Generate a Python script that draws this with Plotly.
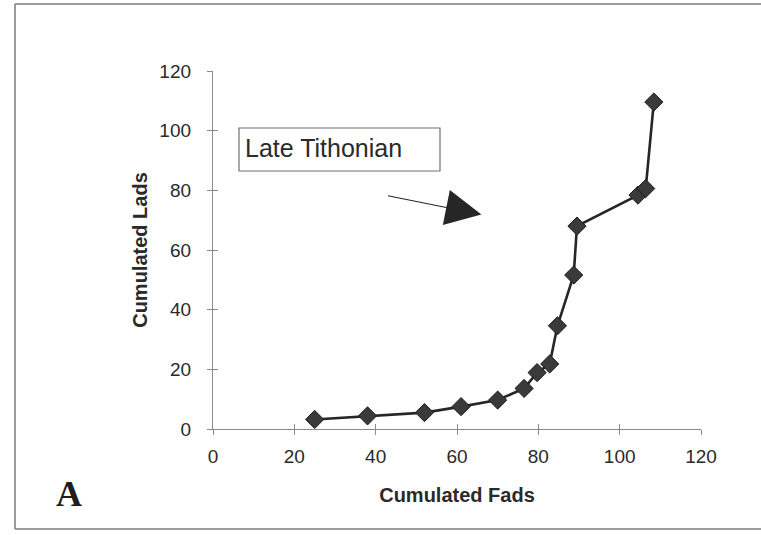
import plotly.graph_objects as go

# Data
cum_fads = [25, 38, 52, 61, 70, 76.5, 79.7, 82.8, 84.7, 88.7, 89.5, 104.5, 106.4, 108.4]
cum_lads = [3.2, 4.4, 5.5, 7.5, 9.7, 13.6, 18.9, 21.8, 34.6, 51.6, 68, 78.4, 80.6, 109.6]
tick_vals = [0, 20, 40, 60, 80, 100, 120]
tick_text = ["0", "20", "40", "60", "80", "100", "120"]

W, H = 761, 535
ML, MR, MT, MB = 213, 60, 71, 106
PW, PH = W - ML - MR, H - MT - MB


def px_x(p):
    return (p - ML) / PW


def px_y(p):
    return (H - MB - p) / PH


FONT = "Liberation Sans, Arial"

fig = go.Figure()
fig.add_trace(go.Scatter(
    x=cum_fads, y=cum_lads, mode="lines+markers",
    line=dict(color="#262626", width=2.6),
    marker=dict(symbol="diamond", size=14, color="#3a3a3a",
                line=dict(color="#1e1e1e", width=1)),
    showlegend=False, cliponaxis=False,
))
# invisible trace on overlay axes to produce crossing ticks
fig.add_trace(go.Scatter(x=[0], y=[0], xaxis="x2", yaxis="y2", mode="markers",
                         marker=dict(opacity=0), showlegend=False, hoverinfo="skip"))

axis_common = dict(showgrid=False, zeroline=False, showline=True,
                   linecolor="#8a8a8a", linewidth=1.3,
                   tickcolor="#8a8a8a", tickwidth=1.3, ticklen=5,
                   tickvals=tick_vals, ticktext=tick_text,
                   tickfont=dict(family=FONT, size=19, color="#2a2a2a"))

fig.update_layout(
    width=W, height=H,
    margin=dict(l=ML, r=MR, t=MT, b=MB),
    paper_bgcolor="white", plot_bgcolor="white",
    xaxis=dict(range=[0, 120], ticks="outside", ticklabelstandoff=5,
               title=dict(text="<b>Cumulated Fads</b>", standoff=22,
                          font=dict(family=FONT, size=20, color="#2a2a2a")),
               **axis_common),
    yaxis=dict(range=[0, 120], ticks="outside", ticklabelstandoff=12,
               title=dict(text="<b>Cumulated Lads</b>", standoff=6,
                          font=dict(family=FONT, size=20, color="#2a2a2a")),
               **axis_common),
    xaxis2=dict(range=[0, 120], overlaying="x", ticks="inside", showticklabels=False,
                showgrid=False, zeroline=False, tickvals=tick_vals, ticklen=5,
                tickcolor="#8a8a8a", tickwidth=1.3, showline=False),
    yaxis2=dict(range=[0, 120], overlaying="y", ticks="inside", showticklabels=False,
                showgrid=False, zeroline=False, tickvals=tick_vals, ticklen=5,
                tickcolor="#8a8a8a", tickwidth=1.3, showline=False),
)

# Text box "Late Tithonian"
fig.add_shape(type="rect", xref="paper", yref="paper",
              x0=px_x(239), x1=px_x(440), y0=px_y(171), y1=px_y(128),
              line=dict(color="#707070", width=1.2), fillcolor="white")
fig.add_annotation(xref="paper", yref="paper", x=px_x(243), y=px_y(148),
                   xanchor="left", yanchor="middle", showarrow=False,
                   text="Late Tithonian",
                   font=dict(family=FONT, size=25, color="#2a2a2a"))

# Arrow
fig.add_annotation(x=66.0, y=71.9, xref="x", yref="y", text="",
                   showarrow=True, arrowhead=2, arrowsize=6.5, arrowwidth=1.1,
                   arrowcolor="#262626", ax=-95, ay=-19)

# Panel letter
fig.add_annotation(xref="paper", yref="paper", x=px_x(69), y=px_y(494),
                   xanchor="center", yanchor="middle", showarrow=False,
                   text="<b>A</b>",
                   font=dict(family="Liberation Serif, Times New Roman", size=36, color="#1e1e1e"))

# Page frame
frame = dict(color="#7a7a7a", width=1.5)
fig.add_shape(type="line", xref="paper", yref="paper",
              x0=px_x(15), x1=px_x(761), y0=px_y(4), y1=px_y(4), line=frame)
fig.add_shape(type="line", xref="paper", yref="paper",
              x0=px_x(15), x1=px_x(15), y0=px_y(4), y1=px_y(529), line=frame)
fig.add_shape(type="line", xref="paper", yref="paper",
              x0=px_x(15), x1=px_x(761), y0=px_y(529), y1=px_y(529), line=frame)

fig.write_html("out.html")
